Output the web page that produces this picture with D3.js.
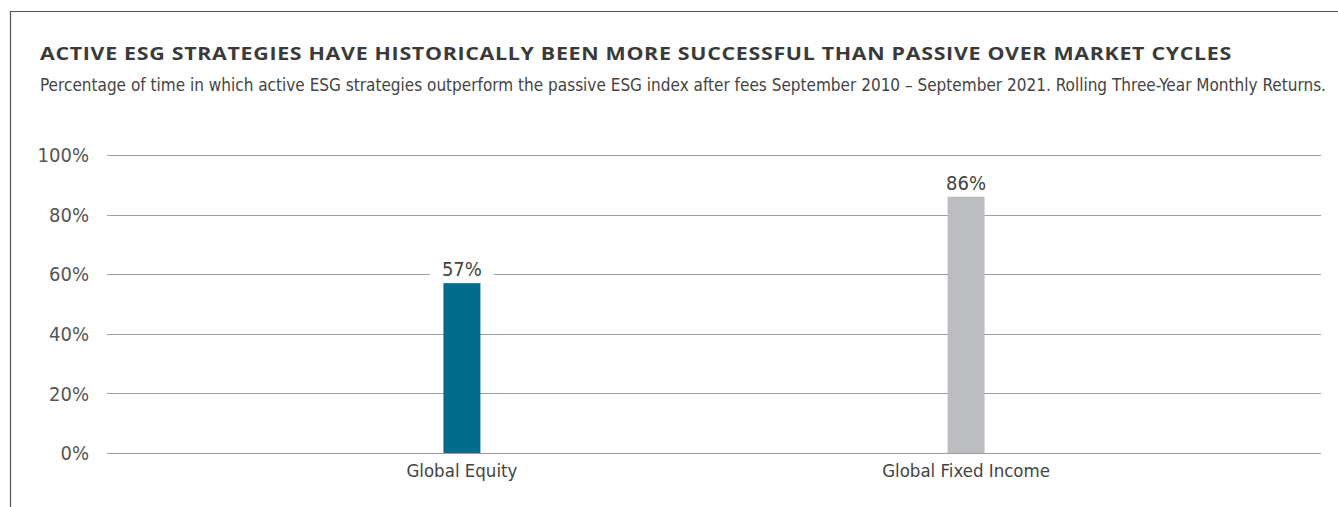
<!DOCTYPE html>
<html>
<head>
<meta charset="utf-8">
<script src="https://cdn.jsdelivr.net/npm/d3@7"></script>
<style>
  body { margin: 0; background: #fff; }
  svg { display: block; }
  .narrow { font-family: "Liberation Sans Narrow", "DejaVu Sans Condensed", "Liberation Sans", sans-serif; }
</style>
</head>
<body>
<div id="chart"></div>
<script>
var width = 1338,
    height = 507;

// data
var categories = ["Global Equity", "Global Fixed Income"];
var values = [57, 86];
var barColors = ["#006b8a", "#bcbdc1"];
var yTicks = [0, 20, 40, 60, 80, 100];

var title = "ACTIVE ESG STRATEGIES HAVE HISTORICALLY BEEN MORE SUCCESSFUL THAN PASSIVE OVER MARKET CYCLES";
var subtitle = "Percentage of time in which active ESG strategies outperform the passive ESG index after fees September 2010 \u2013 September 2021. Rolling Three-Year Monthly Returns.";

var svg = d3.select("#chart")
    .append("svg")
    .attr("width", width)
    .attr("height", height);

// frame (top and left rules)
svg.append("path")
    .attr("d", "M10.5," + height + "V11.5H" + width)
    .attr("fill", "none")
    .attr("stroke", "#555")
    .attr("stroke-width", 1.2);

svg.append("text")
    .attr("x", 40)
    .attr("y", 60)
    .attr("textLength", 1192)
    .attr("lengthAdjust", "spacingAndGlyphs")
    .style("font-family", "'Open Sans', 'Liberation Sans', sans-serif")
    .style("font-weight", 700)
    .style("font-size", "18.5px")
    .style("letter-spacing", "0.6px")
    .attr("fill", "#3a3a3a")
    .text(title);

svg.append("text")
    .attr("class", "narrow")
    .attr("x", 40)
    .attr("y", 91)
    .attr("textLength", 1286)
    .attr("lengthAdjust", "spacingAndGlyphs")
    .style("font-size", "17px")
    .attr("fill", "#444")
    .text(subtitle);

var plotLeft = 107, plotRight = 1321;

var y = d3.scaleLinear()
    .domain([0, 100])
    .range([453, 155]);

var x = d3.scalePoint()
    .domain(categories)
    .range([plotLeft, plotRight])
    .padding(0.704);

var barWidth = 37;

// grid lines
svg.append("g")
    .selectAll("line")
    .data(yTicks)
    .enter().append("line")
    .attr("x1", plotLeft)
    .attr("x2", plotRight)
    .attr("y1", function(d) { return Math.round(y(d)) + 0.5; })
    .attr("y2", function(d) { return Math.round(y(d)) + 0.5; })
    .attr("stroke", "#a0a0a0")
    .attr("stroke-width", 1);

// y labels
svg.append("g")
    .selectAll("text")
    .data(yTicks)
    .enter().append("text")
    .attr("class", "narrow")
    .attr("x", 89)
    .attr("y", function(d) { return y(d); })
    .attr("dy", "0.36em")
    .attr("text-anchor", "end")
    .style("font-size", "20px")
    .attr("fill", "#555")
    .text(function(d) { return d + "%"; });

// bars
svg.append("g")
    .selectAll("rect")
    .data(values)
    .enter().append("rect")
    .attr("x", function(d, i) { return x(categories[i]) - barWidth / 2; })
    .attr("y", function(d) { return y(d); })
    .attr("width", barWidth)
    .attr("height", function(d) { return y(0) - y(d); })
    .attr("fill", function(d, i) { return barColors[i]; });

// value labels with white backing
var lab = svg.append("g")
    .selectAll("g")
    .data(values)
    .enter().append("g")
    .attr("transform", function(d, i) {
        return "translate(" + x(categories[i]) + "," + (y(d) - 7) + ")";
    });

lab.append("rect")
    .attr("x", -32)
    .attr("y", -20)
    .attr("width", 64)
    .attr("height", 22)
    .attr("fill", "#fff");

lab.append("text")
    .attr("class", "narrow")
    .attr("text-anchor", "middle")
    .style("font-size", "20px")
    .attr("fill", "#444")
    .text(function(d) { return d + "%"; });

// category labels
svg.append("g")
    .selectAll("text")
    .data(categories)
    .enter().append("text")
    .attr("class", "narrow")
    .attr("x", function(d) { return x(d); })
    .attr("y", 477)
    .attr("text-anchor", "middle")
    .style("font-size", "18.5px")
    .attr("fill", "#444")
    .text(function(d) { return d; });
</script>
</body>
</html>
